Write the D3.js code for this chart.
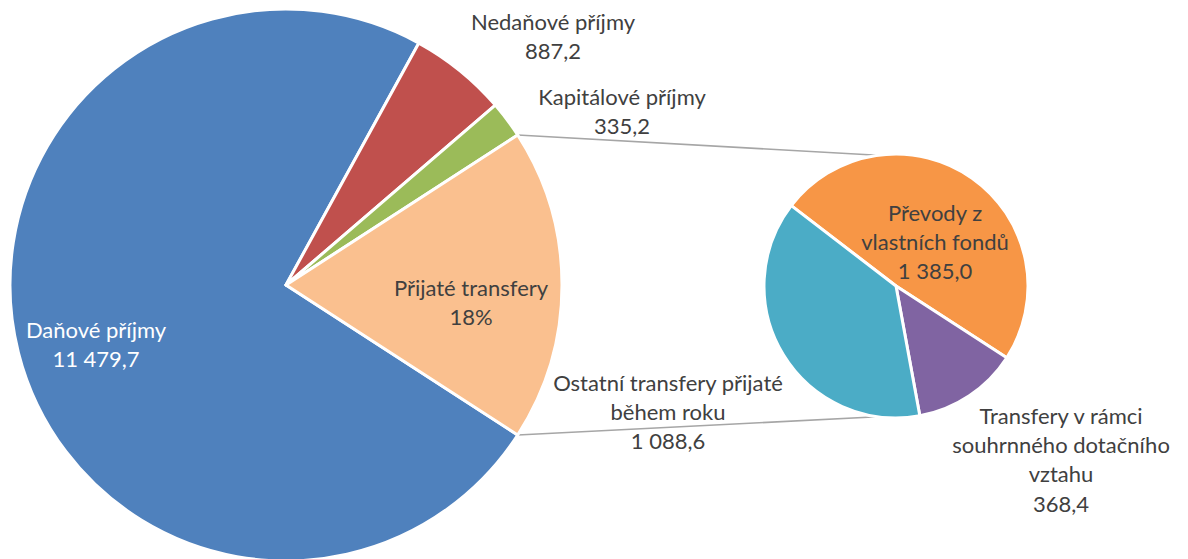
<!DOCTYPE html>
<html>
<head>
<meta charset="utf-8">
<script src="https://cdn.jsdelivr.net/npm/d3@7"></script>
<style>
  html, body { margin: 0; padding: 0; background: #ffffff; }
  svg { display: block; }
  text { font-family: Lato, "Open Sans", sans-serif; }
</style>
</head>
<body>
<svg id="chart" width="1188" height="559"></svg>
<script>
// ---- data ----
const mainCategories = ["Daňové příjmy", "Nedaňové příjmy", "Kapitálové příjmy", "Přijaté transfery"];
const mainValues = [11479.7, 887.2, 335.2];           // last category = sum of secondary values
const subCategories = ["Převody z vlastních fondů", "Transfery v rámci souhrnného dotačního vztahu", "Ostatní transfery přijaté během roku"];
const subValues = [1385.0, 368.4, 1088.6];
const mainColors = ["#4f81bd", "#c0504d", "#9bbb59", "#fac08f"];
const subColors = ["#f79646", "#8064a2", "#4bacc6"];
const mainLabelLines = [["Daňové příjmy"], ["Nedaňové příjmy"], ["Kapitálové příjmy"], ["Přijaté transfery"]];
const subLabelLines = [["Převody z", "vlastních fondů"], ["Transfery v rámci", "souhrnného dotačního", "vztahu"], ["Ostatní transfery přijaté", "během roku"]];

// ---- layout ----
const svg = d3.select("#chart");
const main = { cx: 286, cy: 285, r: 276 };
const sub = { cx: 896, cy: 286, r: 132 };
const deg = Math.PI / 180;

const loc = d3.formatLocale({ decimal: ",", thousands: " ", grouping: [3], currency: ["", " Kč"] });
const fmt = loc.format(",.1f");
const pct = d3.format(".0%");

const transferTotal = d3.sum(subValues);
const allMain = mainValues.concat([transferTotal]);
const mainTotal = d3.sum(allMain);
const transferSpan = transferTotal / mainTotal * 2 * Math.PI;

const mainStart = Math.PI / 2 + transferSpan / 2;
const mainPie = d3.pie().sort(null).value(d => d).startAngle(mainStart).endAngle(mainStart + 2 * Math.PI);
const mainArcs = mainPie(allMain);

const subStart = -52.5 * deg;
const subPie = d3.pie().sort(null).value(d => d).startAngle(subStart).endAngle(subStart + 2 * Math.PI);
const subArcs = subPie(subValues);

const arcMain = d3.arc().innerRadius(0).outerRadius(main.r);
const arcSub = d3.arc().innerRadius(0).outerRadius(sub.r);

// connector lines: top corner of transfer slice -> top of secondary pie, bottom corner -> bottom
const pt = (c, r, a) => [c.cx + r * Math.sin(a), c.cy - r * Math.cos(a)];
const tArc = mainArcs[3];
const conn = [
  [pt(main, main.r, tArc.startAngle), pt(sub, sub.r, -8 * deg)],
  [pt(main, main.r, tArc.endAngle), pt(sub, sub.r, 188 * deg)]
];

svg.append("g").selectAll("line").data(conn).join("line")
  .attr("x1", d => d[0][0]).attr("y1", d => d[0][1])
  .attr("x2", d => d[1][0]).attr("y2", d => d[1][1])
  .attr("stroke", "#a6a6a6").attr("stroke-width", 1.6);

svg.append("g").attr("transform", `translate(${main.cx},${main.cy})`)
  .selectAll("path").data(mainArcs).join("path")
  .attr("d", arcMain)
  .attr("fill", (d, i) => mainColors[i])
  .attr("stroke", "#ffffff").attr("stroke-width", 3).attr("stroke-linejoin", "round");

svg.append("g").attr("transform", `translate(${sub.cx},${sub.cy})`)
  .selectAll("path").data(subArcs).join("path")
  .attr("d", arcSub)
  .attr("fill", (d, i) => subColors[i])
  .attr("stroke", "#ffffff").attr("stroke-width", 3).attr("stroke-linejoin", "round");

// ---- labels ----
const mainLabelPos = [[96, 330], [553, 22], [622, 97], [471, 288]];
const mainLabelColor = ["#ffffff", "#404040", "#404040", "#404040"];
const subLabelPos = [[935, 213], [1061, 416], [668, 383]];
const lineH = 29.3;

function drawLabel(lines, pos, color) {
  const t = svg.append("text")
    .attr("text-anchor", "middle")
    .attr("fill", color)
    .attr("font-size", 22);
  lines.forEach((ln, i) => {
    t.append("tspan").attr("x", pos[0]).attr("y", pos[1] + i * lineH).attr("dy", "0.35em").text(ln);
  });
}

mainArcs.forEach((a, i) => {
  const valText = i === 3 ? pct(allMain[i] / mainTotal) : fmt(allMain[i]);
  drawLabel(mainLabelLines[i].concat([valText]), mainLabelPos[i], mainLabelColor[i]);
});
subArcs.forEach((a, i) => {
  drawLabel(subLabelLines[i].concat([fmt(subValues[i])]), subLabelPos[i], "#404040");
});
</script>
</body>
</html>
